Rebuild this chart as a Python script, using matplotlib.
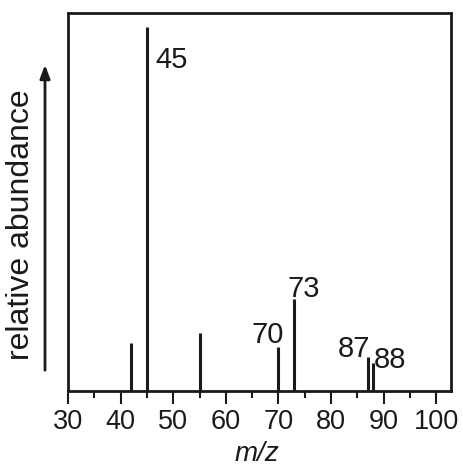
import matplotlib.pyplot as plt
from matplotlib.ticker import MultipleLocator

plt.rcParams['font.family'] = ['Liberation Sans', 'DejaVu Sans']

# peaks (45 = 100)
mz = [42, 45, 55, 70, 73, 87, 88]
abundance = [13.3, 100, 15.9, 12.1, 25.3, 9.3, 7.8]

# labelled peaks: text, x, y (data coords of baseline centre)
labels = ["45", "73", "70", "87", "88"]
label_x = [49.6, 74.9, 68.0, 84.3, 91.3]
label_y = [88.7, 25.8, 13.2, 9.3, 6.3]

W, H = 464, 467
fig = plt.figure(figsize=(W / 100, H / 100), dpi=100)
ax = fig.add_axes([68 / W, 1 - 391 / H, (451 - 68) / W, (391 - 12.5) / H])

ax.vlines(mz, 0, abundance, color='#1a1a1a', linewidth=2.2)

for t, x, y in zip(labels, label_x, label_y):
    ax.text(x, y, t, ha='center', va='baseline', fontsize=21, color='#1a1a1a')

ax.set_xlim(30, 102.8)
ax.set_ylim(0, 104)
ax.xaxis.set_major_locator(MultipleLocator(10))
ax.xaxis.set_minor_locator(MultipleLocator(5))
ax.tick_params(axis='x', which='major', direction='out', length=9, width=1.5,
               pad=4, labelsize=19.5, colors='#1a1a1a')
ax.tick_params(axis='x', which='minor', direction='out', length=5, width=1.5,
               colors='#1a1a1a')
ax.set_yticks([])
for s in ax.spines.values():
    s.set_linewidth(2)
    s.set_color('#1a1a1a')

fig.text(257 / W, 1 - 461 / H, "m/z", ha='center', va='baseline',
         fontsize=20, style='italic', color='#1a1a1a')

fig.text(21 / W, 1 - 224.5 / H, "relative abundance", rotation=90,
         ha='center', va='center', fontsize=23, color='#1a1a1a')
ax.annotate("", xy=(45 / W, 1 - 62 / H), xycoords='figure fraction',
            xytext=(45 / W, 1 - 373 / H), textcoords='figure fraction',
            arrowprops=dict(arrowstyle='-|>,head_length=0.8,head_width=0.3',
                            color='#1a1a1a', lw=2))

fig.savefig("out.png", dpi=100)
